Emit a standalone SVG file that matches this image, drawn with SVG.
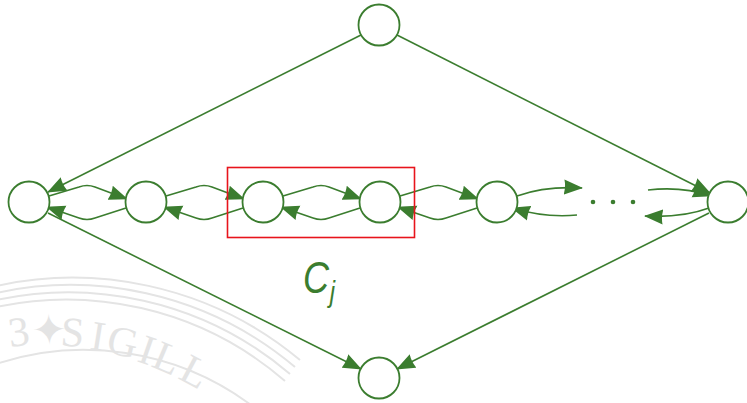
<svg xmlns="http://www.w3.org/2000/svg" width="747" height="403" viewBox="0 0 747 403">
  <style>
    .node { fill: #ffffff; stroke: #3b7d2f; stroke-width: 1.8; }
    .edge { fill: none; stroke: #3b7d2f; stroke-width: 1.6; marker-end: url(#tip); }
    .dot { fill: #3b7d2f; }
    .seal { fill: none; stroke: #e4e4e4; stroke-width: 2; }
    .sealtext { fill: #e4e4e4; font-family: "Liberation Serif", serif; font-size: 42px; }
    .label { fill: #3b7d2f; font-family: "Liberation Sans", "DejaVu Sans", sans-serif; font-style: italic; }
  </style>
  <defs>
    <marker id="tip" markerUnits="userSpaceOnUse" markerWidth="19" markerHeight="16" viewBox="0 0 19 16" refX="18" refY="8" orient="auto">
      <path d="M0,0.5 L19,8 L0,15.5 Q2,8 0,0.5 Z" fill="#3b7d2f"/>
    </marker>
  </defs>

  <!-- faint seal in the background -->
  <g id="seal">
    <path class="seal" d="M -20 290 A 355 355 0 0 1 300 360"/>
    <path class="seal" d="M -20 297 A 348 348 0 0 1 295 367"/>
    <path class="seal" d="M -20 304 A 341 341 0 0 1 290 374"/>
    <path class="seal" d="M -20 311 A 334 334 0 0 1 285 381"/>
    <path class="seal" d="M -20 370 A 280 280 0 0 1 260 412"/>
    <!-- lettering placed glyph by glyph along the seal's circle -->
    <text class="sealtext" x="10 32 60 89 105 136 150 177" y="347 345 345.5 349 352 361 366 378" rotate="-7 -2 4 9 13 19 23 28">3✦SIGILL</text>
  </g>

  <!-- connectors -->
  <g id="connectors">
    <!-- top node to the two ends -->
    <path class="edge" d="M361,35 L48,192"/>
    <path class="edge" d="M397,35 L710,193"/>
    <!-- ends to bottom node -->
    <path class="edge" d="M48,213 L361,369"/>
    <path class="edge" d="M709,213 L397,369"/>

    <!-- chain: forward (upper) and backward (lower) -->
    <path class="edge" d="M49,196 L79,187 Q87,184 95,187 L127,199"/>
    <path class="edge" d="M126,208 L95,218 Q87,221 79,218 L47,207"/>

    <path class="edge" d="M166,196 L196,187 Q204,184 212,187 L244,199"/>
    <path class="edge" d="M243,208 L212,218 Q204,221 196,218 L164,207"/>

    <path class="edge" d="M283,196 L313,187 Q321,184 329,187 L361,199"/>
    <path class="edge" d="M360,208 L329,218 Q321,221 313,218 L281,207"/>

    <path class="edge" d="M400,196 L430,187 Q438,184 446,187 L478,199"/>
    <path class="edge" d="M477,208 L446,218 Q438,221 430,218 L398,207"/>

    <!-- towards the dots -->
    <path class="edge" d="M517,196 Q545,186 582,188"/>
    <path class="edge" d="M577,215 Q545,218 512,208"/>
    <path class="edge" d="M648,190 Q682,186 711,196"/>
    <path class="edge" d="M709,208 Q682,218 645,216"/>
  </g>

  <circle class="dot" cx="593" cy="202" r="2.3"/>
  <circle class="dot" cx="613" cy="202" r="2.3"/>
  <circle class="dot" cx="633" cy="202" r="2.3"/>

  <!-- nodes -->
  <g id="n-top"><circle class="node" cx="379" cy="25" r="20.5"/></g>
  <g id="n-bottom"><circle class="node" cx="379" cy="378" r="20.5"/></g>
  <g id="n-left"><circle class="node" cx="29" cy="202" r="20.5"/></g>
  <g id="n-1"><circle class="node" cx="146" cy="202" r="20.5"/></g>
  <g id="n-2"><circle class="node" cx="263" cy="202" r="20.5"/></g>
  <g id="n-3"><circle class="node" cx="380" cy="202" r="20.5"/></g>
  <g id="n-4"><circle class="node" cx="497" cy="202" r="20.5"/></g>
  <g id="n-right"><circle class="node" cx="728" cy="202" r="20.5"/></g>

  <!-- highlighted pair -->
  <rect x="227.5" y="167.5" width="187" height="70" fill="none" stroke="#e8141c" stroke-width="1.6"/>

  <!-- label -->
  <text class="label" x="303" y="293" font-size="44" transform="translate(303 0) scale(0.82 1) translate(-303 0)">C<tspan font-size="29" dy="9" dx="1">j</tspan></text>
</svg>
